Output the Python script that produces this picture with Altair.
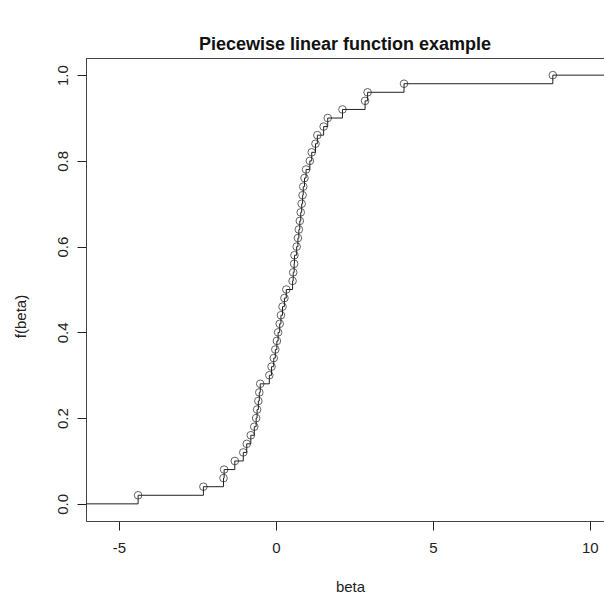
import altair as alt
import pandas as pd

# knot positions (beta)
beta = [-4.39, -2.31, -1.67, -1.65, -1.31, -1.04, -0.93, -0.80, -0.69, -0.63,
        -0.60, -0.56, -0.53, -0.50, -0.21, -0.14, -0.07, -0.02, 0.03, 0.07,
        0.12, 0.16, 0.21, 0.27, 0.33, 0.53, 0.55, 0.58, 0.59, 0.66,
        0.70, 0.73, 0.76, 0.79, 0.82, 0.85, 0.87, 0.91, 0.96, 1.08,
        1.14, 1.26, 1.32, 1.52, 1.65, 2.12, 2.84, 2.92, 4.08, 8.82]
fbeta = [0.02, 0.04, 0.06, 0.08, 0.10, 0.12, 0.14, 0.16, 0.18, 0.20,
         0.22, 0.24, 0.26, 0.28, 0.30, 0.32, 0.34, 0.36, 0.38, 0.40,
         0.42, 0.44, 0.46, 0.48, 0.50, 0.52, 0.54, 0.56, 0.58, 0.60,
         0.62, 0.64, 0.66, 0.68, 0.70, 0.72, 0.74, 0.76, 0.78, 0.80,
         0.82, 0.84, 0.86, 0.88, 0.90, 0.92, 0.94, 0.96, 0.98, 1.00]
x_ticks = [-5, 0, 5, 10]
y_ticks = [0.0, 0.2, 0.4, 0.6, 0.8, 1.0]
x_domain = [-6.05, 10.45]
y_domain = [-0.04, 1.04]

pts = pd.DataFrame({"beta": beta, "f": fbeta})
# step function extends to the left at 0 and to the right at 1
steps = pd.DataFrame({
    "beta": [x_domain[0] - 5] + beta + [x_domain[1] + 5],
    "f": [0.0] + fbeta + [fbeta[-1]],
})

W, H = 518, 463
FONT = "Liberation Sans"
INK = "#222222"
BOX = "#444444"

xs = alt.Scale(domain=x_domain, nice=False, zero=False)
ys = alt.Scale(domain=y_domain, nice=False, zero=False)

xaxis = alt.Axis(values=x_ticks, title="beta", grid=False, tickSize=9,
                 labelPadding=10, titlePadding=24, titleX=264,
                 domainColor=BOX, tickColor=INK, labelColor=INK, titleColor=INK,
                 labelFontSize=15, titleFontSize=15, titleFontWeight="normal",
                 labelFont=FONT, titleFont=FONT, labelFlush=False,
                 labelExpr="'' + datum.value")
yaxis = alt.Axis(values=y_ticks, title="f(beta)", format=".1f", grid=False,
                 tickSize=9, labelAngle=-90, labelAlign="center",
                 labelBaseline="bottom", labelPadding=7, titlePadding=27,
                 titleY=258,
                 domainColor=BOX, tickColor=INK, labelColor=INK, titleColor=INK,
                 labelFontSize=15, titleFontSize=15, titleFontWeight="normal",
                 labelFont=FONT, titleFont=FONT, labelFlush=False)

line = alt.Chart(steps).mark_line(
    interpolate="step-after", color=INK, strokeWidth=1, clip=True
).encode(
    x=alt.X("beta:Q", scale=xs, axis=xaxis),
    y=alt.Y("f:Q", scale=ys, axis=yaxis),
    order="beta:Q",
)

points = alt.Chart(pts).mark_point(
    shape="circle", filled=False, color=INK, size=58, strokeWidth=1, clip=True
).encode(
    x=alt.X("beta:Q", scale=xs),
    y=alt.Y("f:Q", scale=ys),
)

top = alt.Chart(pts).mark_rule(color=BOX, strokeWidth=1).encode(
    x=alt.value(0), x2=alt.value(W), y=alt.value(0.5)
)

chart = alt.layer(line, points, top).properties(
    width=W, height=H,
    title=alt.Title("Piecewise linear function example", font=FONT,
                    fontSize=18, fontWeight="bold", color="#111111",
                    anchor="middle", offset=4),
    autosize=alt.AutoSizeParams(type="none"),
    padding={"left": 86, "top": 58, "right": 0, "bottom": 77},
).configure_view(stroke=None).configure(background="white")

chart.save("out.html", embed_options={"renderer": "svg", "actions": False})
